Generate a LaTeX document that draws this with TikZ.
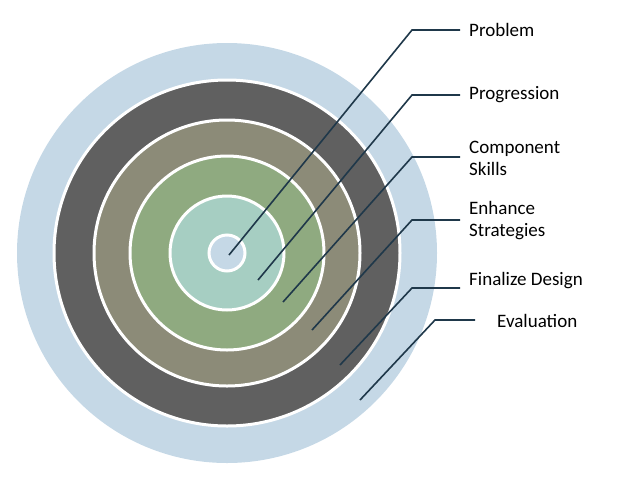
\documentclass[tikz,border=0pt]{standalone}
\usepackage{fontspec}
\setmainfont{Carlito}
\begin{document}
\begin{tikzpicture}[x=1pt,y=-1pt,
  ring/.style={draw=white,line width=3pt},
  lead/.style={draw=black!60!blue!40!teal!60!black,line width=1.6pt,color={rgb,255:red,31;green,56;blue,74}},
  lbl/.style={anchor=west,font=\fontsize{19}{22}\selectfont,align=left,inner sep=0pt}]
\useasboundingbox (0,0) rectangle (626,480);
\coordinate (c) at (227,253);
\fill[fill={rgb,255:red,197;green,216;blue,230}] (c) circle (210);
\filldraw[ring,fill={rgb,255:red,96;green,96;blue,96}] (c) circle (173);
\filldraw[ring,fill={rgb,255:red,140;green,139;blue,120}] (c) circle (133);
\filldraw[ring,fill={rgb,255:red,143;green,170;blue,128}] (c) circle (97);
\filldraw[ring,fill={rgb,255:red,166;green,206;blue,194}] (c) circle (57);
\filldraw[ring,fill={rgb,255:red,197;green,216;blue,230}] (c) circle (18);
\node[lbl] (t1) at (469,30) {Problem};
\node[lbl] (t2) at (469,95) {Progression};
\node[lbl] (t3) at (469,158) {Component\\Skills};
\node[lbl] (t4) at (469,221) {Enhance\\Strategies};
\node[lbl] (t5) at (469,281) {Finalize Design};
\node[lbl] (t6) at (497,321) {Evaluation};
\coordinate (s1) at (229,255); \coordinate (e1) at (412,30); \coordinate (h1) at (460,30);
\coordinate (s2) at (258,280); \coordinate (e2) at (412,95); \coordinate (h2) at (460,95);
\coordinate (s3) at (283,302); \coordinate (e3) at (412,157); \coordinate (h3) at (460,157);
\coordinate (s4) at (312,330); \coordinate (e4) at (412,220); \coordinate (h4) at (460,220);
\coordinate (s5) at (340,365); \coordinate (e5) at (412,288); \coordinate (h5) at (460,288);
\coordinate (s6) at (360,400); \coordinate (e6) at (435,320); \coordinate (h6) at (475,320);
\foreach \i in {1,...,6}{\draw[lead] (s\i) -- (e\i) -- (h\i);}
\end{tikzpicture}
\end{document}
